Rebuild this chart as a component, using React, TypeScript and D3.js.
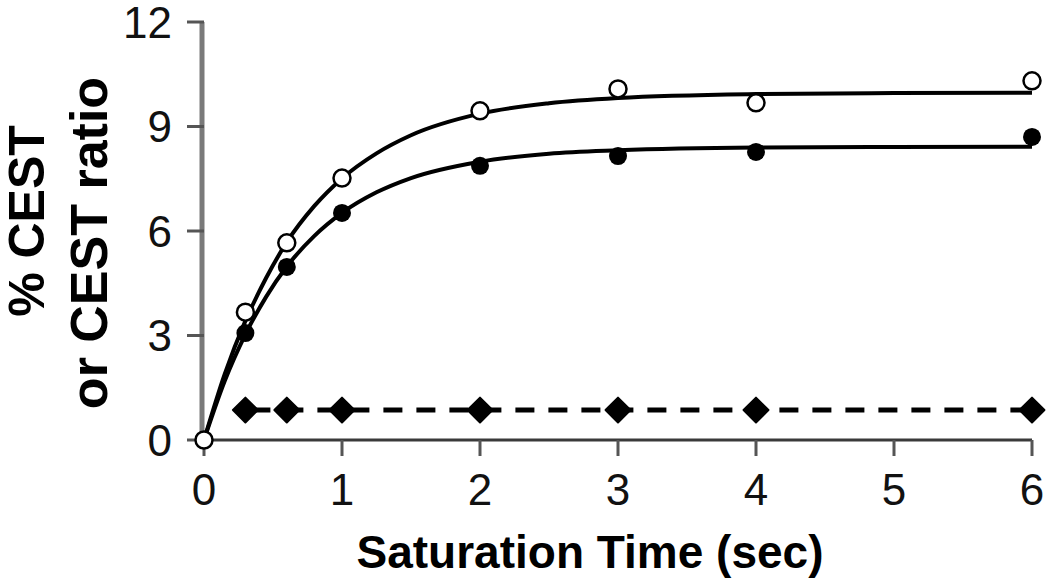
import * as d3 from "d3";

// measured points
const times = [0.3, 0.6, 1, 2, 3, 4, 6];
const openValues = [3.67, 5.66, 7.52, 9.45, 10.08, 9.68, 10.31];
const filledValues = [3.07, 4.97, 6.52, 7.87, 8.15, 8.27, 8.7];
const diamondValues = [0.86, 0.86, 0.86, 0.86, 0.86, 0.86, 0.86];

// fitted curves
const fitTimes = [0, 0.15, 0.3, 0.45, 0.6, 0.8, 1, 1.25, 1.5, 2, 2.5, 3, 4, 5, 6];
const openFit = [0, 1.89, 3.42, 4.65, 5.68, 6.72, 7.51, 8.23, 8.75, 9.37, 9.67, 9.82, 9.93, 9.96, 9.97];
const filledFit = [0, 1.69, 3.03, 4.11, 4.98, 5.86, 6.52, 7.11, 7.52, 7.99, 8.22, 8.32, 8.4, 8.415, 8.42];

const xTicks = [0, 1, 2, 3, 4, 5, 6];
const yTicks = [0, 3, 6, 9, 12];

const App = () => {
  const width = 1050;
  const height = 584;

  const x = d3.scaleLinear().domain([0, 6]).range([204, 1032]);
  const y = d3.scaleLinear().domain([0, 12]).range([440, 22]);

  const line = d3
    .line<number>()
    .x((d, i) => x(fitTimes[i]))
    .y((d) => y(d))
    .curve(d3.curveMonotoneX);

  const dashLine = d3
    .line<number>()
    .x((d, i) => x(times[i]))
    .y((d) => y(d));

  const diamond = d3.symbol().type(d3.symbolSquare).size(310)();

  const tickFont = "'Liberation Sans Narrow', 'Liberation Sans', Arial, sans-serif";
  const titleFont = "'Liberation Sans', Arial, sans-serif";

  return (
    <svg
      width={width}
      height={height}
      style={{ position: "absolute", left: 0, top: 0, background: "#fff" }}
    >
      {/* y axis */}
      <line x1={x(0) - 2} x2={x(0) - 2} y1={y(12)} y2={y(0)} stroke="#7a7a7a" strokeWidth={5} />
      {yTicks.map((t) => (
        <g key={"y" + t}>
          <line x1={187} x2={x(0)} y1={y(t)} y2={y(t)} stroke="#555" strokeWidth={3} />
          <text
            x={172}
            y={y(t)}
            dy="0.36em"
            textAnchor="end"
            fontFamily={tickFont}
            fontSize={44}
            fill="#111"
          >
            {t}
          </text>
        </g>
      ))}

      {/* x axis */}
      <line x1={x(0) - 4} x2={x(6)} y1={y(0)} y2={y(0)} stroke="#3a3a3a" strokeWidth={3} />
      {xTicks.map((t) => (
        <g key={"x" + t}>
          <line x1={x(t)} x2={x(t)} y1={y(0)} y2={y(0) + 16} stroke="#555" strokeWidth={3} />
          <text
            x={x(t)}
            y={505}
            textAnchor="middle"
            fontFamily={tickFont}
            fontSize={44}
            fill="#111"
          >
            {t}
          </text>
        </g>
      ))}

      {/* fitted curves */}
      <path d={line(openFit) || ""} fill="none" stroke="#000" strokeWidth={4} />
      <path d={line(filledFit) || ""} fill="none" stroke="#000" strokeWidth={4} />

      {/* dashed control */}
      <path
        d={dashLine(diamondValues) || ""}
        fill="none"
        stroke="#000"
        strokeWidth={5}
        strokeDasharray="19,14"
        strokeDashoffset={-6}
      />

      {diamondValues.map((v, i) => (
        <path
          key={"d" + i}
          d={diamond || ""}
          transform={`translate(${x(times[i])},${y(v)}) rotate(45)`}
          fill="#000"
          stroke="#000"
          strokeWidth={2}
          strokeLinejoin="round"
        />
      ))}

      {filledValues.map((v, i) => (
        <circle key={"f" + i} cx={x(times[i])} cy={y(v)} r={9} fill="#000" />
      ))}

      {openValues.map((v, i) => (
        <circle
          key={"o" + i}
          cx={x(times[i])}
          cy={y(v)}
          r={8.5}
          fill="#fff"
          stroke="#000"
          strokeWidth={2.5}
        />
      ))}
      <circle cx={x(0)} cy={y(0)} r={8.5} fill="#fff" stroke="#000" strokeWidth={2.5} />

      {/* titles */}
      <text
        x={590}
        y={568}
        textAnchor="middle"
        fontFamily={titleFont}
        fontWeight="bold"
        fontSize={46}
        fill="#000"
      >
        Saturation Time (sec)
      </text>
      <text
        transform="translate(44,221) rotate(-90)"
        textAnchor="middle"
        fontFamily={titleFont}
        fontWeight="bold"
        fontSize={50}
        fill="#000"
      >
        % CEST
      </text>
      <text
        transform="translate(107,243) rotate(-90)"
        textAnchor="middle"
        fontFamily={titleFont}
        fontWeight="bold"
        fontSize={52}
        fill="#000"
      >
        or CEST ratio
      </text>
    </svg>
  );
};

export default App;
